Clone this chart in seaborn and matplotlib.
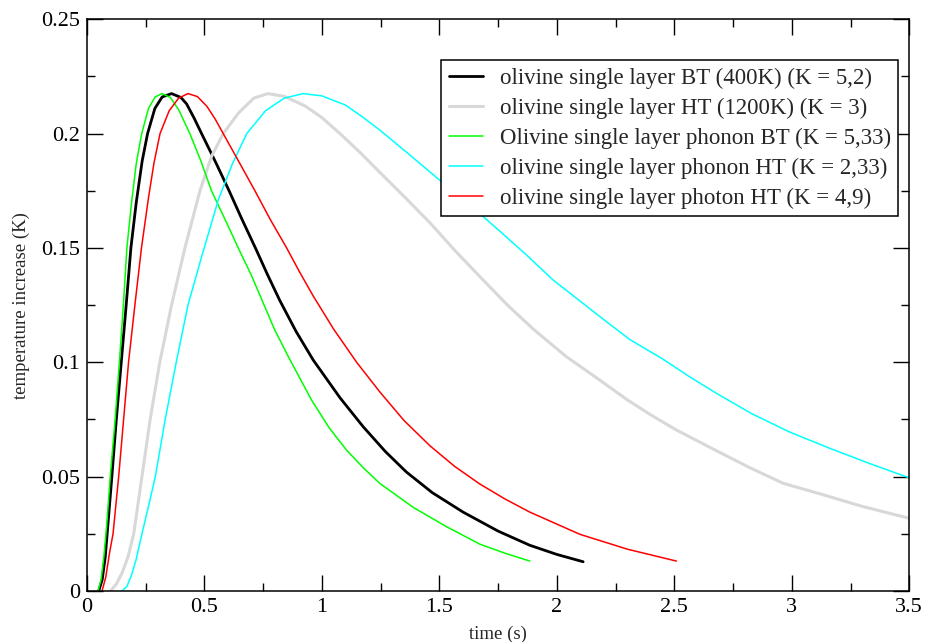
import seaborn as sns
import matplotlib.pyplot as plt
from matplotlib.ticker import MultipleLocator, FormatStrFormatter

bt_x = [0.05, 0.065, 0.078, 0.09, 0.106, 0.125, 0.146, 0.167, 0.187, 0.21, 0.235, 0.258, 0.289, 0.32, 0.36,
        0.40, 0.424, 0.455, 0.488, 0.55, 0.605, 0.66, 0.717, 0.77, 0.821, 0.89, 0.963, 1.077, 1.176, 1.27,
        1.36, 1.47, 1.601, 1.75, 1.885, 2.0, 2.112]
bt_y = [0.0, 0.005, 0.015, 0.03, 0.05, 0.075, 0.1, 0.125, 0.15, 0.17, 0.188, 0.2, 0.211, 0.216, 0.2175,
        0.2158, 0.213, 0.207, 0.2, 0.187, 0.175, 0.1625, 0.15, 0.138, 0.127, 0.1135, 0.101, 0.0845, 0.0718, 0.061,
        0.052, 0.043, 0.0345, 0.0262, 0.02, 0.016, 0.0128]

ht_x = [0.10, 0.125, 0.15, 0.175, 0.199, 0.234, 0.269, 0.31, 0.36, 0.417, 0.481, 0.53, 0.58, 0.645, 0.71,
        0.77, 0.84, 0.93, 1.0, 1.077, 1.16, 1.247, 1.35, 1.46, 1.565, 1.672, 1.79, 1.9, 2.04, 2.183,
        2.297, 2.4, 2.509, 2.68, 2.82, 2.963, 3.12, 3.3, 3.5]
ht_y = [0.0, 0.003, 0.008, 0.015, 0.025, 0.05, 0.075, 0.1, 0.125, 0.15, 0.175, 0.19, 0.2, 0.209, 0.2155,
        0.2175, 0.2163, 0.212, 0.207, 0.2, 0.192, 0.183, 0.1725, 0.161, 0.149, 0.1375, 0.125, 0.1145, 0.1025, 0.0922,
        0.0838, 0.077, 0.0704, 0.0613, 0.054, 0.0471, 0.0425, 0.037, 0.0318]

phbt_x = [0.047, 0.06, 0.072, 0.085, 0.099, 0.12, 0.138, 0.155, 0.17, 0.19, 0.21, 0.233, 0.262, 0.29, 0.32,
          0.355, 0.39, 0.438, 0.485, 0.53, 0.59, 0.644, 0.70, 0.75, 0.80, 0.857, 0.956, 1.03, 1.105, 1.175,
          1.247, 1.39, 1.531, 1.672, 1.78, 1.885]
phbt_y = [0.0, 0.005, 0.015, 0.03, 0.05, 0.075, 0.1, 0.125, 0.15, 0.17, 0.187, 0.2, 0.211, 0.216, 0.2175,
          0.2158, 0.2105, 0.2, 0.188, 0.175, 0.162, 0.15, 0.138, 0.126, 0.114, 0.1025, 0.0835, 0.0715, 0.0616, 0.054,
          0.047, 0.0365, 0.0281, 0.0205, 0.0165, 0.0131]

phht_x = [0.149, 0.17, 0.19, 0.21, 0.234, 0.262, 0.291, 0.333, 0.38, 0.43, 0.484, 0.559, 0.62, 0.68, 0.76,
          0.84, 0.92, 1.0, 1.1, 1.17, 1.247, 1.37, 1.502, 1.672, 1.75, 1.87, 1.984, 2.183, 2.31, 2.45,
          2.56, 2.68, 2.83, 2.991, 3.162, 3.33, 3.5]
phht_y = [0.0, 0.002, 0.007, 0.014, 0.025, 0.037, 0.05, 0.075, 0.1, 0.125, 0.1447, 0.171, 0.187, 0.2, 0.21,
          0.2155, 0.2175, 0.2165, 0.2125, 0.2075, 0.2015, 0.191, 0.1796, 0.165, 0.158, 0.147, 0.136, 0.12, 0.11, 0.1015,
          0.094, 0.0864, 0.0775, 0.0695, 0.0624, 0.0558, 0.0495]

pt_x = [0.064, 0.08, 0.095, 0.111, 0.135, 0.156, 0.177, 0.204, 0.232, 0.262, 0.285, 0.311, 0.35, 0.39, 0.43,
        0.47, 0.51, 0.545, 0.58, 0.645, 0.715, 0.78, 0.85, 0.905, 0.963, 1.05, 1.148, 1.247, 1.35, 1.46,
        1.565, 1.672, 1.78, 1.885, 2.098, 2.3, 2.509]
pt_y = [0.0, 0.006, 0.016, 0.025, 0.05, 0.075, 0.1, 0.125, 0.15, 0.172, 0.187, 0.2, 0.21, 0.2155, 0.2175,
        0.2162, 0.212, 0.2065, 0.2, 0.188, 0.175, 0.1625, 0.15, 0.1395, 0.129, 0.1145, 0.1, 0.087, 0.0745, 0.0635,
        0.0545, 0.0468, 0.0402, 0.0345, 0.0248, 0.0183, 0.0131]

labels = ["olivine single layer BT (400K) (K = 5,2)",
          "olivine single layer HT (1200K) (K = 3)",
          "Olivine single layer phonon BT (K = 5,33)",
          "olivine single layer phonon HT (K = 2,33)",
          "olivine single layer photon HT (K = 4,9)"]

sns.set_theme(style="ticks")
plt.rcParams['font.family'] = ['Liberation Serif', 'DejaVu Serif']

fig = plt.figure(figsize=(9.25, 6.42), dpi=100)
ax = fig.add_axes([0.094, 0.0794, 0.889, 0.8906])

sns.lineplot(x=bt_x, y=bt_y, ax=ax, color='black', linewidth=2.0, label=labels[0])
sns.lineplot(x=ht_x, y=ht_y, ax=ax, color='#d8d8d8', linewidth=2.2, label=labels[1])
sns.lineplot(x=phbt_x, y=phbt_y, ax=ax, color='#00ff00', linewidth=1.1, label=labels[2])
sns.lineplot(x=phht_x, y=phht_y, ax=ax, color='#00ffff', linewidth=1.1, label=labels[3])
sns.lineplot(x=pt_x, y=pt_y, ax=ax, color='#ff0000', linewidth=1.1, label=labels[4])

ax.set_xlim(0, 3.5)
ax.set_ylim(0, 0.25)
ax.xaxis.set_major_locator(MultipleLocator(0.5))
ax.xaxis.set_minor_locator(MultipleLocator(0.25))
ax.yaxis.set_major_locator(MultipleLocator(0.05))
ax.yaxis.set_minor_locator(MultipleLocator(0.025))
ax.xaxis.set_major_formatter(FormatStrFormatter('%g'))
ax.yaxis.set_major_formatter(FormatStrFormatter('%g'))
ax.tick_params(which='both', direction='in', top=True, right=True, width=1.0, colors='black', labelsize=16)
ax.tick_params(which='major', length=11.5, pad=5)
ax.tick_params(which='minor', length=5.8)
for s in ax.spines.values():
    s.set_linewidth(1.1)
    s.set_color('black')

ax.set_xlabel('time (s)', fontsize=13.5, labelpad=6)
ax.set_ylabel('temperature increase (K)', fontsize=13.5, labelpad=8)

leg = ax.legend(loc='upper left', bbox_to_anchor=(0.431, 0.928), borderaxespad=0, fontsize=16.5,
                fancybox=False, framealpha=1, edgecolor='black', handlelength=1.5, handletextpad=0.72,
                labelspacing=0.38, borderpad=0.32)
leg.get_frame().set_linewidth(1.1)

plt.savefig('out.png', dpi=100)
